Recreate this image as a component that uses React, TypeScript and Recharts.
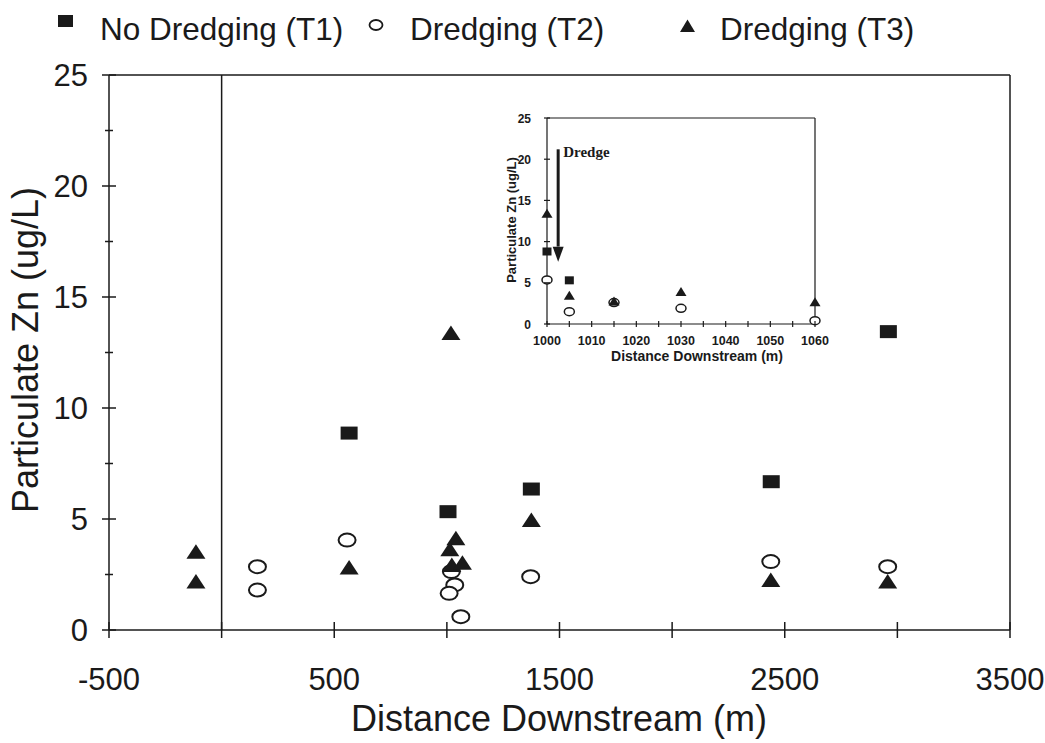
import React from 'react';
import { ScatterChart, Scatter, XAxis, YAxis, ReferenceLine, ReferenceDot, Legend, Label } from 'recharts';

// ---------- Main chart data ----------
const t1Distance = [566, 1005, 1375, 2440, 2960];
const t1Zn = [8.87, 5.33, 6.35, 6.68, 13.44];
const t2Distance = [159, 159, 557, 1020, 1035, 1010, 1062, 1372, 2438, 2957];
const t2Zn = [2.85, 1.8, 4.05, 2.63, 2.03, 1.65, 0.6, 2.4, 3.08, 2.85];
const t3Distance = [-114, -114, 566, 1018, 1040, 1013, 1022, 1069, 1375, 2438, 2957];
const t3Zn = [3.53, 2.18, 2.81, 13.38, 4.13, 3.64, 2.93, 3.03, 4.95, 2.25, 2.18];

const mainXTicks = [-500, 0, 500, 1000, 1500, 2000, 2500, 3000, 3500];
const mainXLabels = [-500, 500, 1500, 2500, 3500];
const mainYTicks = [0, 2.5, 5, 7.5, 10, 12.5, 15, 17.5, 20, 22.5, 25];
const mainYLabels = [0, 5, 10, 15, 20, 25];

// ---------- Inset data ----------
const insetT1Distance = [1000, 1005];
const insetT1Zn = [8.8, 5.3];
const insetT2Distance = [1000, 1005, 1015, 1030, 1060];
const insetT2Zn = [5.35, 1.5, 2.6, 1.9, 0.4];
const insetT3Distance = [1000, 1005, 1015, 1030, 1060];
const insetT3Zn = [13.45, 3.5, 2.8, 3.95, 2.7];

const insetXTicks = [1000, 1005, 1010, 1015, 1020, 1025, 1030, 1035, 1040, 1045, 1050, 1055, 1060];
const insetXLabels = [1000, 1010, 1020, 1030, 1040, 1050, 1060];
const insetYTicks = [0, 5, 10, 15, 20, 25];

const dredgeX = 1002.5;
const dredgeTop = 21.2;
const dredgeTip = 7.55;
const dredgeShaftEnd = 9.4;

const seriesNames = ['No Dredging (T1)', 'Dredging (T2)', 'Dredging (T3)'];

const FONT = 'Liberation Sans, Arial, sans-serif';
const INK = '#1a1a1a';

const toPoints = (xs: number[], ys: number[]) => xs.map((d, i) => ({ distance: d, zn: ys[i] }));

// ---------- Marker shapes ----------
const SquareBig = (p: any) => <rect x={p.cx - 8.5} y={p.cy - 6.5} width={17} height={13} fill={INK} />;
const CircleBig = (p: any) => <ellipse cx={p.cx} cy={p.cy} rx={8.5} ry={6.5} fill="#fff" stroke={INK} strokeWidth={2} />;
const TriBig = (p: any) => (
  <path d={`M${p.cx},${p.cy - 7.5} L${p.cx + 9.5},${p.cy + 7} L${p.cx - 9.5},${p.cy + 7} Z`} fill={INK} />
);
const SquareSmall = (p: any) => <rect x={p.cx - 4.5} y={p.cy - 4} width={9} height={8} fill={INK} />;
const CircleSmall = (p: any) => <ellipse cx={p.cx} cy={p.cy} rx={5} ry={4} fill="#fff" stroke={INK} strokeWidth={1.5} />;
const TriSmall = (p: any) => (
  <path d={`M${p.cx},${p.cy - 4.5} L${p.cx + 5.5},${p.cy + 4.5} L${p.cx - 5.5},${p.cy + 4.5} Z`} fill={INK} />
);

// ---------- Ticks ----------
const MainXTick = (props: any) => {
  const { x, y, payload } = props;
  const v = payload.value;
  return (
    <g>
      <line x1={x} x2={x} y1={y - 8} y2={y + 8} stroke={INK} strokeWidth={1.5} />
      {mainXLabels.includes(v) && (
        <text x={x} y={y + 60} textAnchor="middle" fontSize={31} fontFamily={FONT} fill={INK}>
          {v}
        </text>
      )}
    </g>
  );
};

const MainYTick = (props: any) => {
  const { x, y, payload } = props;
  const v = payload.value;
  const major = mainYLabels.includes(v);
  const half = major ? 7 : 4;
  return (
    <g>
      <line x1={x - half} x2={x + half} y1={y} y2={y} stroke={INK} strokeWidth={1.5} />
      {major && (
        <text x={x - 21} y={y + 11} textAnchor="end" fontSize={31} fontFamily={FONT} fill={INK}>
          {v}
        </text>
      )}
    </g>
  );
};

const InsetXTick = (props: any) => {
  const { x, y, payload } = props;
  const v = payload.value;
  return (
    <g>
      <line x1={x} x2={x} y1={y - 3} y2={y + 3} stroke={INK} strokeWidth={1.2} />
      {insetXLabels.includes(v) && (
        <text x={x} y={y + 21} textAnchor="middle" fontSize={12.5} fontWeight="bold" fontFamily={FONT} fill={INK}>
          {v}
        </text>
      )}
    </g>
  );
};

const InsetYTick = (props: any) => {
  const { x, y, payload } = props;
  const v = payload.value;
  return (
    <g>
      <line x1={x - 3} x2={x + 3} y1={y} y2={y} stroke={INK} strokeWidth={1.2} />
      <text x={x - 16} y={y + 4.5} textAnchor="end" fontSize={12} fontWeight="bold" fontFamily={FONT} fill={INK}>
        {v}
      </text>
    </g>
  );
};

// ---------- Legend ----------
const renderLegend = () => (
  <svg width={1045} height={60} style={{ display: 'block' }}>
    <rect x={58} y={15} width={15} height={12} fill={INK} />
    <text x={100} y={40} fontSize={31.5} fontFamily={FONT} fill={INK}>{seriesNames[0]}</text>
    <ellipse cx={376} cy={25} rx={6.5} ry={5} fill="#fff" stroke={INK} strokeWidth={1.8} />
    <text x={410} y={40} fontSize={31.5} fontFamily={FONT} fill={INK}>{seriesNames[1]}</text>
    <path d="M687.5,19.5 L695,32 L680,32 Z" fill={INK} />
    <text x={720} y={40} fontSize={31.5} fontFamily={FONT} fill={INK}>{seriesNames[2]}</text>
  </svg>
);

const DredgeLabel = (p: any) => (
  <text x={p.cx + 5} y={p.cy + 8} fontSize={15} fontWeight="bold" fontFamily="Liberation Serif, Times New Roman, serif" fill={INK}>
    Dredge
  </text>
);

const ArrowHead = (p: any) => (
  <path d={`M${p.cx},${p.cy} L${p.cx + 5.5},${p.cy - 15} L${p.cx - 5.5},${p.cy - 15} Z`} fill={INK} />
);

export default function App() {
  return (
    <div style={{ position: 'absolute', left: 0, top: 0, width: 1045, height: 743, background: '#fff' }}>
      <div style={{ position: 'absolute', left: 0, top: 0 }}>
        <ScatterChart width={1045} height={743} margin={{ top: 75, right: 35, bottom: 112, left: 108 }}>
          <XAxis
            type="number"
            dataKey="distance"
            domain={[-500, 3500]}
            ticks={mainXTicks}
            interval={0}
            height={1}
            tickSize={0}
            tickMargin={0}
            tickLine={false}
            tick={<MainXTick />}
            axisLine={{ stroke: INK, strokeWidth: 1.5 }}
          >
            <Label
              content={() => (
                <text x={559} y={731} textAnchor="middle" fontSize={36} fontFamily={FONT} fill={INK}>
                  Distance Downstream (m)
                </text>
              )}
            />
          </XAxis>
          <YAxis
            type="number"
            dataKey="zn"
            domain={[0, 25]}
            ticks={mainYTicks}
            interval={0}
            width={1}
            tickSize={0}
            tickMargin={0}
            tickLine={false}
            tick={<MainYTick />}
            axisLine={{ stroke: INK, strokeWidth: 1.5 }}
          >
            <Label
              content={() => (
                <text
                  x={38}
                  y={350}
                  textAnchor="middle"
                  fontSize={36}
                  fontFamily={FONT}
                  fill={INK}
                  transform="rotate(-90, 38, 350)"
                >
                  Particulate Zn (ug/L)
                </text>
              )}
            />
          </YAxis>
          <ReferenceLine y={25} stroke={INK} strokeWidth={1.5} />
          <ReferenceLine x={3500} stroke={INK} strokeWidth={1.5} />
          <ReferenceLine x={0} stroke={INK} strokeWidth={1.5} />
          <Legend
            layout="vertical"
            align="center"
            verticalAlign="middle"
            content={renderLegend}
            wrapperStyle={{ position: 'absolute', top: 0, left: 0, width: 1045, height: 60 }}
          />
          <Scatter name={seriesNames[0]} data={toPoints(t1Distance, t1Zn)} shape={SquareBig} isAnimationActive={false} />
          <Scatter name={seriesNames[1]} data={toPoints(t2Distance, t2Zn)} shape={CircleBig} isAnimationActive={false} />
          <Scatter name={seriesNames[2]} data={toPoints(t3Distance, t3Zn)} shape={TriBig} isAnimationActive={false} />
        </ScatterChart>
      </div>

      <div style={{ position: 'absolute', left: 490, top: 100 }}>
        <ScatterChart width={340} height={280} margin={{ top: 18, right: 15, bottom: 55, left: 56 }}>
          <XAxis
            type="number"
            dataKey="distance"
            domain={[1000, 1060]}
            ticks={insetXTicks}
            interval={0}
            height={1}
            tickSize={0}
            tickMargin={0}
            tickLine={false}
            tick={<InsetXTick />}
            axisLine={{ stroke: INK, strokeWidth: 1.2 }}
          >
            <Label
              content={() => (
                <text x={207} y={261} textAnchor="middle" fontSize={14} fontWeight="bold" fontFamily={FONT} fill={INK}>
                  Distance Downstream (m)
                </text>
              )}
            />
          </XAxis>
          <YAxis
            type="number"
            dataKey="zn"
            domain={[0, 25]}
            ticks={insetYTicks}
            interval={0}
            width={1}
            tickSize={0}
            tickMargin={0}
            tickLine={false}
            tick={<InsetYTick />}
            axisLine={{ stroke: INK, strokeWidth: 1.2 }}
          >
            <Label
              content={() => (
                <text
                  x={26}
                  y={120}
                  textAnchor="middle"
                  fontSize={13}
                  fontWeight="bold"
                  fontFamily={FONT}
                  fill={INK}
                  transform="rotate(-90, 26, 120)"
                >
                  Particulate Zn (ug/L)
                </text>
              )}
            />
          </YAxis>
          <ReferenceLine y={25} stroke={INK} strokeWidth={1.2} />
          <ReferenceLine x={1060} stroke={INK} strokeWidth={1.2} />
          <ReferenceLine
            segment={[
              { x: dredgeX, y: dredgeTop },
              { x: dredgeX, y: dredgeShaftEnd },
            ]}
            stroke={INK}
            strokeWidth={3}
          />
          <ReferenceDot x={dredgeX} y={dredgeTip} r={1} shape={ArrowHead} />
          <ReferenceDot x={dredgeX} y={dredgeTop} r={1} shape={DredgeLabel} />
          <Scatter name={seriesNames[0]} data={toPoints(insetT1Distance, insetT1Zn)} shape={SquareSmall} isAnimationActive={false} />
          <Scatter name={seriesNames[1]} data={toPoints(insetT2Distance, insetT2Zn)} shape={CircleSmall} isAnimationActive={false} />
          <Scatter name={seriesNames[2]} data={toPoints(insetT3Distance, insetT3Zn)} shape={TriSmall} isAnimationActive={false} />
        </ScatterChart>
      </div>
    </div>
  );
}
